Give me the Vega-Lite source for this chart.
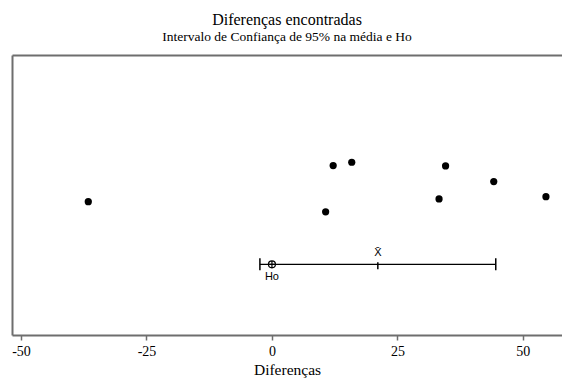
{
  "$schema": "https://vega.github.io/schema/vega-lite/v6.json",
  "width": 550,
  "height": 280,
  "autosize": {"type": "none"},
  "padding": {"left": 12, "top": 55, "right": 0, "bottom": 45},
  "background": "white",
  "config": {
    "view": {"stroke": null},
    "font": "Liberation Serif"
  },
  "title": {
    "text": "Diferenças encontradas",
    "subtitle": "Intervalo de Confiança de 95% na média e Ho",
    "font": "Liberation Serif",
    "fontSize": 16,
    "fontWeight": "normal",
    "color": "black",
    "subtitleFont": "Liberation Serif",
    "subtitleFontSize": 13.5,
    "subtitleColor": "black",
    "subtitlePadding": 2,
    "anchor": "middle",
    "offset": 12
  },
  "datasets": {
    "pts": [
      {"dif": -36.6, "j": 0.476},
      {"dif": 10.7, "j": 0.440},
      {"dif": 12.2, "j": 0.605},
      {"dif": 15.9, "j": 0.617},
      {"dif": 33.3, "j": 0.486},
      {"dif": 34.6, "j": 0.604},
      {"dif": 44.2, "j": 0.548},
      {"dif": 54.6, "j": 0.494}
    ],
    "ci": [
      {"lo": -2.4, "hi": 44.6, "mean": 21.1, "ho": 0, "j": 0.2525}
    ]
  },
  "resolve": {"axis": {"x": "independent", "y": "independent"}},
  "layer": [
    {
      "data": {"name": "pts"},
      "mark": {"type": "point", "filled": true, "shape": "circle", "size": 52, "color": "black", "opacity": 1},
      "encoding": {
        "x": {
          "field": "dif", "type": "quantitative",
          "scale": {"domain": [-51.8, 57.8], "nice": false, "zero": false},
          "axis": {
            "values": [-50, -25, 0, 25, 50],
            "labelExpr": "'' + datum.value",
            "grid": false,
            "domainColor": "#6e6e6e", "domainWidth": 2,
            "tickColor": "#6e6e6e", "tickSize": 5, "tickWidth": 1.5,
            "labelFont": "Liberation Serif", "labelFontSize": 14, "labelColor": "black",
            "labelPadding": 4,
            "title": "Diferenças",
            "titleFont": "Liberation Serif", "titleFontSize": 15.5, "titleFontWeight": "normal", "titleColor": "black",
            "titlePadding": 4
          }
        },
        "y": {
          "field": "j", "type": "quantitative",
          "scale": {"domain": [0, 1], "nice": false, "zero": false},
          "axis": {"labels": false, "ticks": false, "grid": false, "title": null, "domainColor": "#6e6e6e", "domainWidth": 2}
        }
      }
    },
    {
      "data": {"name": "ci"},
      "mark": {"type": "rule", "color": "black", "strokeWidth": 1.2},
      "encoding": {
        "x": {
          "field": "lo", "type": "quantitative",
          "axis": {"orient": "top", "labels": false, "ticks": false, "grid": false, "title": null, "domainColor": "#6e6e6e", "domainWidth": 2}
        },
        "x2": {"field": "hi"},
        "y": {"field": "j", "type": "quantitative", "axis": null}
      }
    },
    {
      "data": {"name": "ci"},
      "transform": [{"fold": ["lo", "hi"], "as": ["end", "val"]}],
      "mark": {"type": "point", "shape": "M0,-1L0,1", "size": 144, "stroke": "black", "strokeWidth": 1.5, "filled": false, "opacity": 1},
      "encoding": {
        "x": {"field": "val", "type": "quantitative", "axis": null},
        "y": {"field": "j", "type": "quantitative", "axis": null}
      }
    },
    {
      "data": {"name": "ci"},
      "mark": {"type": "point", "shape": "M0,-0.6L0,1.4", "size": 49, "stroke": "black", "strokeWidth": 1.5, "filled": false, "opacity": 1},
      "encoding": {
        "x": {"field": "mean", "type": "quantitative", "axis": null},
        "y": {"field": "j", "type": "quantitative", "axis": null}
      }
    },
    {
      "data": {"name": "ci"},
      "mark": {"type": "point", "shape": "M-1,0A1,1,0,1,1,1,0A1,1,0,1,1,-1,0M-1,0L1,0M0,-1L0,1", "size": 49, "stroke": "black", "strokeWidth": 1.2, "filled": false, "opacity": 1},
      "encoding": {
        "x": {"field": "ho", "type": "quantitative", "axis": null},
        "y": {"field": "j", "type": "quantitative", "axis": null}
      }
    },
    {
      "data": {"name": "ci"},
      "mark": {"type": "text", "text": "Ho", "font": "Liberation Sans", "fontSize": 11, "color": "black", "dy": 13},
      "encoding": {
        "x": {"field": "ho", "type": "quantitative", "axis": null},
        "y": {"field": "j", "type": "quantitative", "axis": null}
      }
    },
    {
      "data": {"name": "ci"},
      "mark": {"type": "text", "text": "X̄", "font": "Liberation Sans", "fontSize": 11, "color": "black", "dy": -11},
      "encoding": {
        "x": {"field": "mean", "type": "quantitative", "axis": null},
        "y": {"field": "j", "type": "quantitative", "axis": null}
      }
    }
  ]
}
